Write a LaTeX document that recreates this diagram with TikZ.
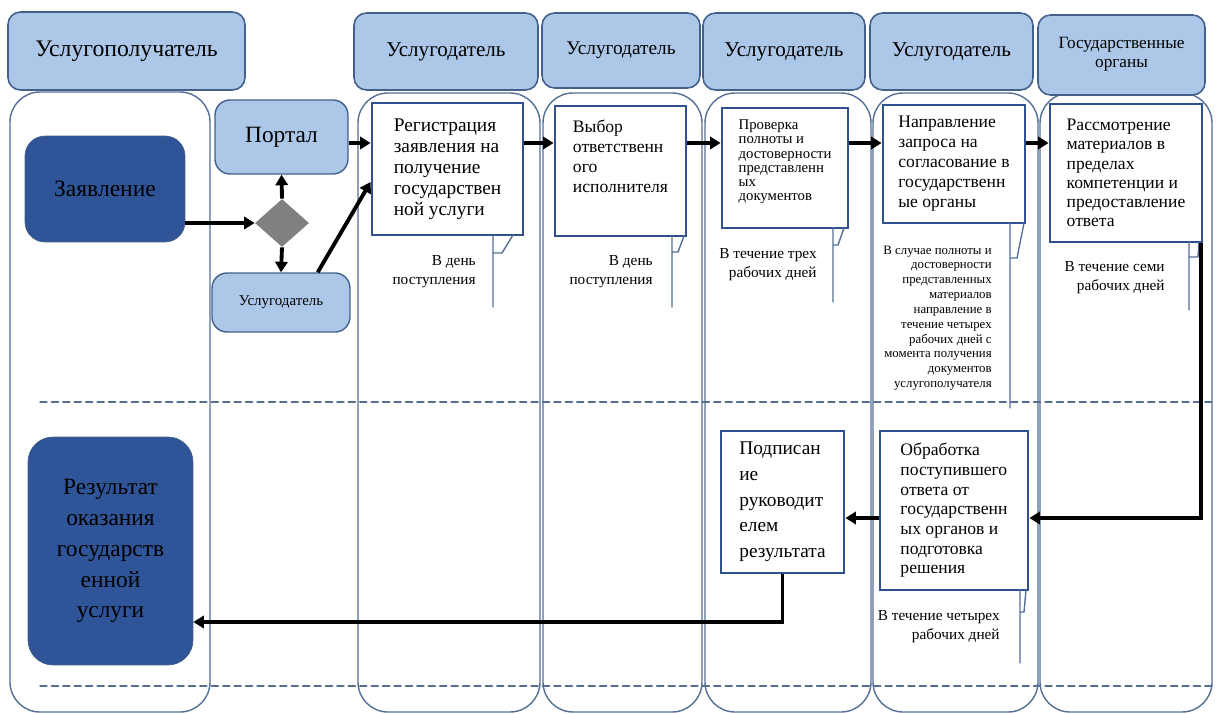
\documentclass[tikz,border=0pt]{standalone}
\usepackage{fontspec}
\setmainfont{Liberation Serif}
\usetikzlibrary{shapes.geometric,arrows.meta}

\definecolor{headFill}{RGB}{172,199,231}
\definecolor{headLine}{RGB}{66,96,138}
\definecolor{darkFill}{RGB}{47,84,151}
\definecolor{stepLine}{RGB}{47,82,143}
\definecolor{laneLine}{RGB}{84,110,150}
\definecolor{forkFill}{RGB}{128,128,128}

\def\noteTail#1#2#3#4#5#6{\draw[tail] (#1,#2) -- (#1,#4) (#1,#3) -- (#5,#3) -- (#6,#2);}

\begin{document}
\begin{tikzpicture}[x=0.02cm, y=-0.02cm, line cap=round,
	hdr/.style={draw=headLine, fill=headFill, line width=0.9pt, rounded corners=0.25cm, align=center, inner sep=0pt},
	darkbox/.style={draw=headLine, fill=darkFill, rounded corners=0.4cm, align=center, inner sep=0pt, text=black},
	litebox/.style={draw=headLine, fill=headFill, line width=0.8pt, rounded corners=0.3cm, inner sep=0pt},
	stepbox/.style={draw=stepLine, fill=white, line width=1.6pt, align=left, inner sep=0pt},
	note/.style={align=right, inner sep=0pt, anchor=east, font=\fontsize{8.7}{10.8}\selectfont},
	lane/.style={draw=laneLine, line width=0.8pt, rounded corners=0.6cm},
	sep/.style={draw=laneLine, line width=0.7pt, dash pattern=on 4pt off 2.5pt},
	tail/.style={draw=laneLine, line width=0.8pt},
	flow/.style={line width=2.2pt, line cap=butt, line join=miter, -{Triangle[length=6pt,width=7pt]}}]
		\useasboundingbox (0,0) rectangle (1216,713);
		
		% swim lanes
		\draw[lane] (10,92) rectangle (210,712);
		\draw[lane] (358,93) rectangle (540,712);
		\draw[lane] (543,93) rectangle (702,712);
		\draw[lane] (705,93) rectangle (871,712);
		\draw[lane] (873,93) rectangle (1038,712);
		\draw[lane] (1040,93) rectangle (1212,712);
		\draw[sep] (40,402) -- (1216,402);
		\draw[sep] (40,686) -- (1216,686);
		
		% lane heads
		\node[hdr, minimum width=4.74cm, minimum height=1.56cm, font=\fontsize{13.5}{15}\selectfont] (headA) at (126.5,51) {Услугополучатель};
		\node[hdr, minimum width=3.68cm, minimum height=1.54cm, font=\fontsize{12}{14}\selectfont] (headB) at (446,51.5) {Услугодатель};
		\node[hdr, minimum width=3.16cm, minimum height=1.5cm, font=\fontsize{11}{13}\selectfont] (headC) at (621,50.5) {Услугодатель};
		\node[hdr, minimum width=3.24cm, minimum height=1.54cm, font=\fontsize{12}{14}\selectfont] (headD) at (784,51.5) {Услугодатель};
		\node[hdr, minimum width=3.26cm, minimum height=1.54cm, font=\fontsize{12}{14}\selectfont] (headE) at (951.5,51.5) {Услугодатель};
		\node[hdr, minimum width=3.34cm, minimum height=1.6cm, text depth=0.1cm, font=\fontsize{9.8}{10.8}\selectfont] (headF) at (1121.5,55) {Государственные\\органы};
		
		% start and result
		\node[darkbox, minimum width=3.2cm, minimum height=2.12cm, font=\fontsize{13.4}{16}\selectfont] (zayav) at (105,189) {Заявление};
		\node[darkbox, rounded corners=0.5cm, minimum width=3.3cm, minimum height=4.56cm, font=\fontsize{13.3}{17.6}\selectfont] (result) at (110.5,551) {Результат\\оказания\\государств\\енной\\услуги};
		
		% portal or giver
		\node[litebox, minimum width=2.66cm, minimum height=1.48cm, font=\fontsize{13.3}{15}\selectfont] (portal) at (281.5,137) {Портал};
		\node[diamond, fill=forkFill, inner sep=0pt, minimum width=1.08cm, minimum height=0.96cm] (fork) at (282,223) {};
		\node[litebox, minimum width=2.76cm, minimum height=1.18cm, font=\fontsize{8.5}{10}\selectfont] (giver) at (281,302.5) {Услугодатель};
		
		% steps
		\node[stepbox, minimum width=3.02cm, minimum height=2.64cm, font=\fontsize{11}{11.9}\selectfont] (reg) at (447.5,169) {Регистрация\\заявления на\\получение\\государствен\\ной услуги};
		\node[stepbox, minimum width=2.62cm, minimum height=2.6cm, text depth=0.6cm, font=\fontsize{10}{11.4}\selectfont] (vyb) at (620.5,171) {Выбор\\ответственн\\ого\\исполнителя};
		\node[stepbox, minimum width=2.52cm, minimum height=2.4cm, text depth=0.3cm, font=\fontsize{8.4}{8.1}\selectfont] (prov) at (785,168) {Проверка\\полноты и\\достоверности\\представленн\\ых\\документов};
		\node[stepbox, minimum width=2.84cm, minimum height=2.36cm, font=\fontsize{10}{11.4}\selectfont] (napr) at (954,164) {Направление\\запроса на\\согласование в\\государственн\\ые органы};
		\node[stepbox, minimum width=3.04cm, minimum height=2.76cm, font=\fontsize{10}{11}\selectfont] (rasm) at (1126,173) {Рассмотрение\\материалов в\\пределах\\компетенции и\\предоставление\\ответа};
		\node[stepbox, minimum width=2.96cm, minimum height=3.18cm, font=\fontsize{10}{11.2}\selectfont] (obr) at (954,510.5) {Обработка\\поступившего\\ответа от\\государственн\\ых органов и\\подготовка\\решения};
		\node[stepbox, minimum width=2.46cm, minimum height=2.84cm, font=\fontsize{11}{14.6}\selectfont] (podp) at (782.5,502) {Подписан\\ие\\руководит\\елем\\результата};
		
		% terms
		\node[note] (noteReg) at (476,272) {В день\\поступления};
		\node[note] (noteVyb) at (653,272) {В день\\поступления};
		\node[note] (noteProv) at (817,264.5) {В течение трех\\рабочих дней};
		\node[note, font=\fontsize{7.3}{8.45}\selectfont] (noteNapr) at (992,318) {В случае полноты и\\достоверности\\представленных\\материалов\\направление в\\течение четырех\\рабочих дней с\\момента получения\\документов\\услугополучателя};
		\node[note] (noteRasm) at (1165,277.5) {В течение семи\\рабочих дней};
		\node[note] (noteObr) at (1000,626.5) {В течение четырех\\рабочих дней};
		\noteTail{493}{235}{253}{307}{502}{513}
		\noteTail{672}{236}{252}{307}{678}{684}
		\noteTail{833}{228}{245}{302}{838}{844}
		\noteTail{1010}{223}{258}{408}{1017}{1024}
		\noteTail{1189}{242}{257}{310}{1198}{1199}
		\noteTail{1020}{590}{612}{663}{1024}{1026}
		
		% flow
		\coordinate (topRow) at (0,143);
		\coordinate (lowRow) at (0,518);
		\coordinate (backRow) at (0,622);
		\draw[flow] (zayav.east |- fork) -- (fork.west);
		\draw[flow] (fork.north) -- (portal.south);
		\draw[flow] (fork.south) -- (giver.north);
		\draw[flow] (portal.east |- topRow) -- (reg.west |- topRow);
		\draw[flow] ([xshift=-0.66cm]giver.north east) -- ([yshift=-0.26cm]reg.west);
		\draw[flow] (reg.east |- topRow) -- (vyb.west |- topRow);
		\draw[flow] (vyb.east |- topRow) -- (prov.west |- topRow);
		\draw[flow] (prov.east |- topRow) -- (napr.west |- topRow);
		\draw[flow] (napr.east |- topRow) -- (rasm.west |- topRow);
		\draw[flow] ([xshift=-0.04cm]rasm.south east) |- (obr.east |- lowRow);
		\draw[flow] (obr.west |- lowRow) -- (podp.east |- lowRow);
		\draw[flow] (podp.south) |- (result.east |- backRow);
\end{tikzpicture}
\end{document}
